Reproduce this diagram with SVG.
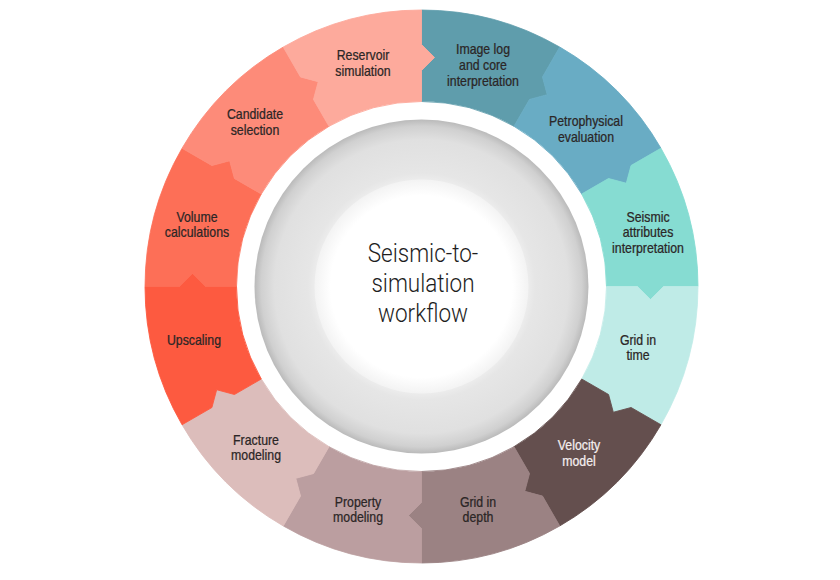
<svg xmlns="http://www.w3.org/2000/svg" width="840" height="580" viewBox="0 0 840 580">
<style>
.lbl{font-family:"Liberation Sans",Arial,sans-serif;font-size:14px;fill:#2b2626;text-anchor:middle;stroke:#2b2626;stroke-width:0.25}
.wht{fill:#f4eeee;stroke:#f4eeee}
.ctr{font-family:Roboto,"Liberation Sans",sans-serif;font-weight:300;font-size:25px;fill:#1e1e1e;text-anchor:middle}
.seg{stroke-width:0.8}
</style>
<defs>
<path id="seg" d="M0,-276.5 A276.5,276.5 0 0 1 138.25,-239.45 L121,-209.58 L125.76,-191.82 L108,-187.06 L92.5,-160.21 A185,185 0 0 0 0,-185 L0,-216 L13,-229 L0,-242 Z"/>
<radialGradient id="gring" gradientUnits="userSpaceOnUse" cx="421.5" cy="286.5" r="167">
<stop offset="0.6" stop-color="#f2f2f2"/>
<stop offset="0.68" stop-color="#e6e6e6"/>
<stop offset="0.88" stop-color="#e0e0e0"/>
<stop offset="0.96" stop-color="#d0d0d0"/>
<stop offset="1" stop-color="#bababa"/>
</radialGradient>
<radialGradient id="gwhite" gradientUnits="userSpaceOnUse" cx="421.5" cy="286.5" r="107">
<stop offset="0.85" stop-color="#ffffff"/>
<stop offset="1" stop-color="#f3f3f3"/>
</radialGradient>
</defs>
<rect width="840" height="580" fill="#ffffff"/>

<g id="center">
<circle cx="421.5" cy="286.5" r="167" fill="url(#gring)"/>
<circle cx="421.5" cy="286.5" r="107" fill="url(#gwhite)"/>
<g transform="translate(423 0) scale(0.9 1)">
<text class="ctr" x="0" y="262">Seismic-to-</text>
<text class="ctr" x="0" y="292">simulation</text>
<text class="ctr" x="0" y="322">workflow</text>
</g>
</g>

<g id="image-log">
<use href="#seg" class="seg" fill="#5f9dac" stroke="#5f9dac" transform="translate(421.5 286.5) rotate(0)"/>
<g transform="translate(483 0) scale(0.88 1)">
<text class="lbl" x="0" y="54">Image log</text>
<text class="lbl" x="0" y="70">and core</text>
<text class="lbl" x="0" y="86">interpretation</text>
</g>
</g>
<g id="petrophysical">
<use href="#seg" class="seg" fill="#69acc4" stroke="#69acc4" transform="translate(421.5 286.5) rotate(30)"/>
<g transform="translate(586 0) scale(0.88 1)">
<text class="lbl" x="0" y="126">Petrophysical</text>
<text class="lbl" x="0" y="142">evaluation</text>
</g>
</g>
<g id="seismic-attributes">
<use href="#seg" class="seg" fill="#86dcd2" stroke="#86dcd2" transform="translate(421.5 286.5) rotate(60)"/>
<g transform="translate(648 0) scale(0.88 1)">
<text class="lbl" x="0" y="222">Seismic</text>
<text class="lbl" x="0" y="237">attributes</text>
<text class="lbl" x="0" y="253">interpretation</text>
</g>
</g>
<g id="grid-time">
<use href="#seg" class="seg" fill="#bfebe7" stroke="#bfebe7" transform="translate(421.5 286.5) rotate(90)"/>
<g transform="translate(638 0) scale(0.88 1)">
<text class="lbl" x="0" y="345">Grid in</text>
<text class="lbl" x="0" y="360">time</text>
</g>
</g>
<g id="velocity">
<use href="#seg" class="seg" fill="#644f4e" stroke="#644f4e" transform="translate(421.5 286.5) rotate(120)"/>
<g transform="translate(579 0) scale(0.88 1)">
<text class="lbl wht" x="0" y="450">Velocity</text>
<text class="lbl wht" x="0" y="466">model</text>
</g>
</g>
<g id="grid-depth">
<use href="#seg" class="seg" fill="#9b8283" stroke="#9b8283" transform="translate(421.5 286.5) rotate(150)"/>
<g transform="translate(478 0) scale(0.88 1)">
<text class="lbl" x="0" y="507">Grid in</text>
<text class="lbl" x="0" y="522">depth</text>
</g>
</g>
<g id="property">
<use href="#seg" class="seg" fill="#bb9ea0" stroke="#bb9ea0" transform="translate(421.5 286.5) rotate(180)"/>
<g transform="translate(358 0) scale(0.88 1)">
<text class="lbl" x="0" y="507">Property</text>
<text class="lbl" x="0" y="522">modeling</text>
</g>
</g>
<g id="fracture">
<use href="#seg" class="seg" fill="#dcbdbb" stroke="#dcbdbb" transform="translate(421.5 286.5) rotate(210)"/>
<g transform="translate(256 0) scale(0.88 1)">
<text class="lbl" x="0" y="445">Fracture</text>
<text class="lbl" x="0" y="460">modeling</text>
</g>
</g>
<g id="upscaling">
<use href="#seg" class="seg" fill="#fd5a40" stroke="#fd5a40" transform="translate(421.5 286.5) rotate(240)"/>
<g transform="translate(194 0) scale(0.88 1)">
<text class="lbl" x="0" y="345">Upscaling</text>
</g>
</g>
<g id="volume">
<use href="#seg" class="seg" fill="#fd6f57" stroke="#fd6f57" transform="translate(421.5 286.5) rotate(270)"/>
<g transform="translate(197 0) scale(0.88 1)">
<text class="lbl" x="0" y="222">Volume</text>
<text class="lbl" x="0" y="237">calculations</text>
</g>
</g>
<g id="candidate">
<use href="#seg" class="seg" fill="#fd8b79" stroke="#fd8b79" transform="translate(421.5 286.5) rotate(300)"/>
<g transform="translate(255 0) scale(0.88 1)">
<text class="lbl" x="0" y="119">Candidate</text>
<text class="lbl" x="0" y="135">selection</text>
</g>
</g>
<g id="reservoir">
<use href="#seg" class="seg" fill="#fdaa9c" stroke="#fdaa9c" transform="translate(421.5 286.5) rotate(330)"/>
<g transform="translate(363 0) scale(0.88 1)">
<text class="lbl" x="0" y="60">Reservoir</text>
<text class="lbl" x="0" y="76">simulation</text>
</g>
</g>
</svg>
